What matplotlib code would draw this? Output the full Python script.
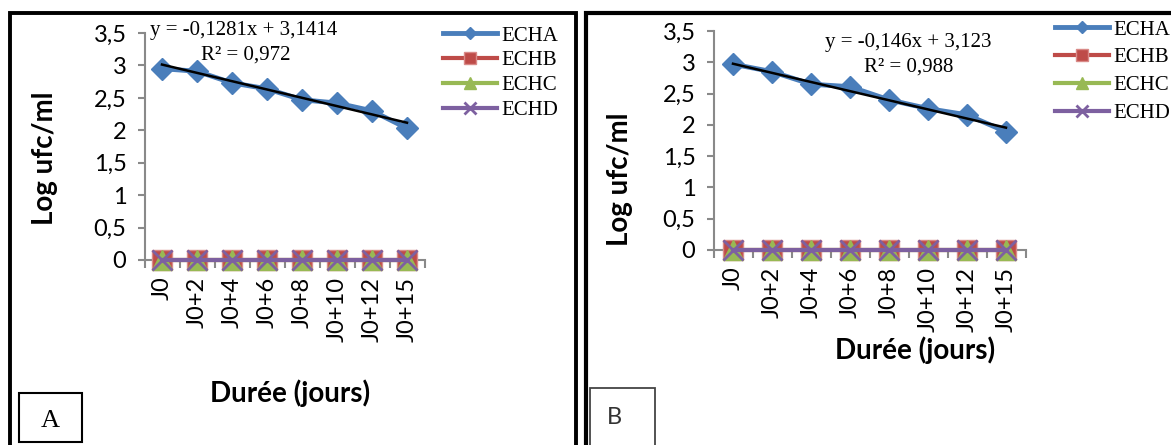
import matplotlib
matplotlib.use("Agg")
import matplotlib.pyplot as plt
import numpy as np
from matplotlib.patches import Rectangle

# ---------------- data ----------------
days = ["J0", "J0+2", "J0+4", "J0+6", "J0+8", "J0+10", "J0+12", "J0+15"]
ytick_values = [0, 0.5, 1, 1.5, 2, 2.5, 3, 3.5]
ytick_labels = ["0", "0,5", "1", "1,5", "2", "2,5", "3", "3,5"]
series_names = ["ECHA", "ECHB", "ECHC", "ECHD"]

a_echa = [2.95, 2.91, 2.73, 2.64, 2.47, 2.42, 2.30, 2.03]
a_echb = [0, 0, 0, 0, 0, 0, 0, 0]
a_echc = [0, 0, 0, 0, 0, 0, 0, 0]
a_echd = [0, 0, 0, 0, 0, 0, 0, 0]
a_slope, a_intercept = -0.1281, 3.1414
a_eq = "y = -0,1281x + 3,1414"
a_r2 = "R² = 0,972"

b_echa = [2.97, 2.85, 2.65, 2.61, 2.40, 2.26, 2.16, 1.89]
b_echb = [0, 0, 0, 0, 0, 0, 0, 0]
b_echc = [0, 0, 0, 0, 0, 0, 0, 0]
b_echd = [0, 0, 0, 0, 0, 0, 0, 0]
b_slope, b_intercept = -0.146, 3.123
b_eq = "y = -0,146x + 3,123"
b_r2 = "R² = 0,988"

# ---------------- styling ----------------
W, H = 1171, 445
BLUE = "#4A7EBB"
RED = "#BE4B48"
GREEN = "#98B954"
PURPLE = "#7D60A0"
AXIS_GRAY = "#898989"
SANS = "Lato"
SERIF = "Liberation Serif"


def fx(x):
    return x / W


def fy(y):
    return 1 - y / H


fig = plt.figure(figsize=(W / 100, H / 100), dpi=100)
fig.patch.set_facecolor("white")


def make_panel(rect, echa, echb, echc, echd, slope, intercept):
    ax = fig.add_axes(rect)
    x = np.arange(len(days))
    ax.plot(x, echa, color=BLUE, lw=3.5, marker="D", ms=11, mfc=BLUE, mec=BLUE,
            clip_on=False, zorder=3, label=series_names[0])
    ax.plot(x, echb, color=RED, lw=3, marker="s", ms=15, mfc=RED, mec="#D98A88",
            mew=1, clip_on=False, zorder=4, label=series_names[1])
    ax.plot(x, echc, color=GREEN, lw=3, marker="^", ms=14, mfc=GREEN, mec=GREEN,
            clip_on=False, zorder=5, label=series_names[2])
    ax.plot(x, echd, color=PURPLE, lw=3, marker="x", ms=14, mew=2, mec=PURPLE,
            clip_on=False, zorder=6, label=series_names[3])
    xt = x + 1
    ax.plot(x, intercept + slope * xt, color="black", lw=1.8, zorder=7)

    ax.set_xlim(-0.5, len(days) - 0.5)
    ax.set_ylim(0, 3.5)
    for s in ["top", "right"]:
        ax.spines[s].set_visible(False)
    for s in ["left", "bottom"]:
        ax.spines[s].set_color(AXIS_GRAY)
        ax.spines[s].set_linewidth(1.5)
    ax.set_yticks(ytick_values)
    ax.set_yticklabels(ytick_labels, family=SANS, fontsize=17)
    ax.tick_params(axis="y", direction="out", length=5, width=1.5, color=AXIS_GRAY, pad=8)
    ax.set_xticks(np.arange(-0.5, len(days), 1))
    ax.set_xticklabels([])
    ax.tick_params(axis="x", which="major", direction="out", length=6, width=1.5, color=AXIS_GRAY)
    ax.set_xticks(x, minor=True)
    ax.set_xticklabels(days, minor=True, rotation=90, family=SANS, fontsize=17)
    ax.tick_params(axis="x", which="minor", length=0, pad=12)
    ax.set_facecolor("none")
    return ax


axA = make_panel([fx(144.5), fy(260), fx(280), 227 / H], a_echa, a_echb, a_echc, a_echd,
                 a_slope, a_intercept)
axB = make_panel([fx(713.5), fy(250), fx(312), 219 / H], b_echa, b_echb, b_echc, b_echd,
                 b_slope, b_intercept)

# legends
axA.legend(loc="upper left", bbox_to_anchor=(fx(443), fy(26)), bbox_transform=fig.transFigure,
           frameon=False, prop={"family": SERIF, "size": 15}, handlelength=2.6,
           handletextpad=0.2, labelspacing=0.25, borderpad=0, borderaxespad=0, markerscale=0.6)
axB.legend(loc="upper left", bbox_to_anchor=(fx(1055), fy(20)), bbox_transform=fig.transFigure,
           frameon=False, prop={"family": SERIF, "size": 15}, handlelength=2.6,
           handletextpad=0.2, labelspacing=0.4, borderpad=0, borderaxespad=0, markerscale=0.6)

# trend equations
fig.text(fx(150), fy(30), a_eq, ha="left", va="center", family=SERIF, fontsize=15)
fig.text(fx(246), fy(55), a_r2, ha="center", va="center", family=SERIF, fontsize=15)
fig.text(fx(908), fy(43), b_eq, ha="center", va="center", family=SERIF, fontsize=15)
fig.text(fx(909), fy(67), b_r2, ha="center", va="center", family=SERIF, fontsize=15)

# axis titles
fig.text(fx(45), fy(158), "Log ufc/ml", rotation=90, ha="center", va="center",
         family=SANS, fontweight="bold", fontsize=20)
fig.text(fx(620), fy(179), "Log ufc/ml", rotation=90, ha="center", va="center",
         family=SANS, fontweight="bold", fontsize=20)
fig.text(fx(290), fy(393), "Durée (jours)", ha="center", va="center",
         family=SANS, fontweight="bold", fontsize=20)
fig.text(fx(915), fy(350), "Durée (jours)", ha="center", va="center",
         family=SANS, fontweight="bold", fontsize=20)

# panel frames
fig.add_artist(Rectangle((fx(10), -0.2), fx(575.5 - 10), 1.2 - 12.5 / H,
                         transform=fig.transFigure, fill=False, ec="black", lw=2.8))
fig.add_artist(Rectangle((fx(585.5), -0.2), 1.0, 1.2 - 12.5 / H,
                         transform=fig.transFigure, fill=False, ec="black", lw=3.0))

# panel labels
fig.add_artist(Rectangle((fx(19), fy(442)), fx(82 - 19), (442 - 393) / H,
                         transform=fig.transFigure, fill=False, ec="black", lw=1.5))
fig.text(fx(50.5), fy(421), "A", ha="center", va="center", family=SERIF, fontsize=19)
fig.add_artist(Rectangle((fx(590), fy(470)), fx(655 - 590), (470 - 388) / H,
                         transform=fig.transFigure, fill=False, ec="#444444", lw=1.3))
fig.text(fx(614), fy(417), "B", ha="center", va="center", family=SANS, fontsize=17,
         color="#333333")

fig.savefig("out.png", dpi=100)
